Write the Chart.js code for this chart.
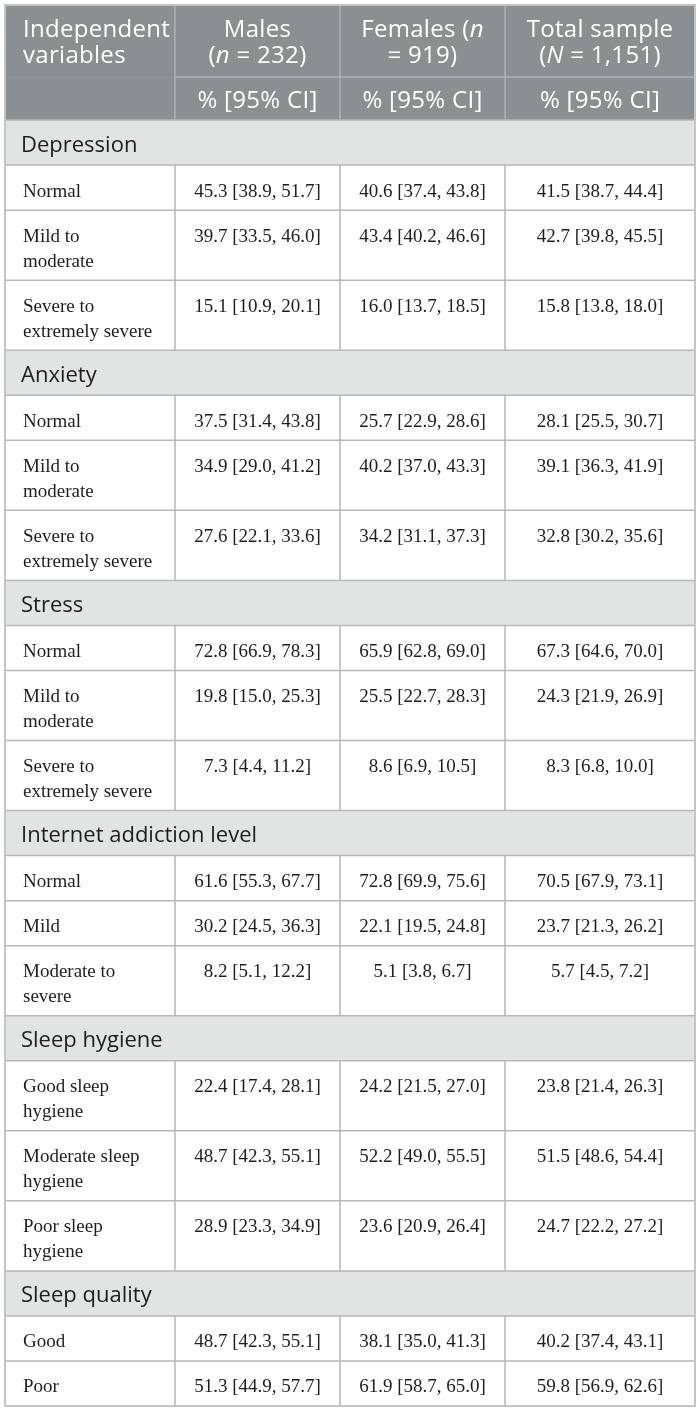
<!DOCTYPE html>
<html>
<head>
<meta charset="utf-8">
<script src="https://cdn.jsdelivr.net/npm/chart.js@4"></script>
<style>
  html, body { margin: 0; padding: 0; background: #fff; }
  #wrap { width: 700px; height: 1413px; }
</style>
</head>
<body>
<div id="wrap"><canvas id="myChart" width="700" height="1413"></canvas></div>
<script>
// header text, *x* marks italic
const headerCols = [
  ['Independent', 'variables'],
  ['Males', '(*n* = 232)'],
  ['Females (*n*', '= 919)'],
  ['Total sample', '(*N* = 1,151)']
];
const subHeader = '% [95% CI]';

const groups = ['Depression', 'Anxiety', 'Stress', 'Internet addiction level', 'Sleep hygiene', 'Sleep quality'];

const levels = [
  ['Normal', 'Mild to\nmoderate', 'Severe to\nextremely severe'],
  ['Normal', 'Mild to\nmoderate', 'Severe to\nextremely severe'],
  ['Normal', 'Mild to\nmoderate', 'Severe to\nextremely severe'],
  ['Normal', 'Mild', 'Moderate to\nsevere'],
  ['Good sleep\nhygiene', 'Moderate sleep\nhygiene', 'Poor sleep\nhygiene'],
  ['Good', 'Poor']
];

// [percent, lower CI, upper CI]
const males = [
  [[45.3, 38.9, 51.7], [39.7, 33.5, 46.0], [15.1, 10.9, 20.1]],
  [[37.5, 31.4, 43.8], [34.9, 29.0, 41.2], [27.6, 22.1, 33.6]],
  [[72.8, 66.9, 78.3], [19.8, 15.0, 25.3], [7.3, 4.4, 11.2]],
  [[61.6, 55.3, 67.7], [30.2, 24.5, 36.3], [8.2, 5.1, 12.2]],
  [[22.4, 17.4, 28.1], [48.7, 42.3, 55.1], [28.9, 23.3, 34.9]],
  [[48.7, 42.3, 55.1], [51.3, 44.9, 57.7]]
];
const females = [
  [[40.6, 37.4, 43.8], [43.4, 40.2, 46.6], [16.0, 13.7, 18.5]],
  [[25.7, 22.9, 28.6], [40.2, 37.0, 43.3], [34.2, 31.1, 37.3]],
  [[65.9, 62.8, 69.0], [25.5, 22.7, 28.3], [8.6, 6.9, 10.5]],
  [[72.8, 69.9, 75.6], [22.1, 19.5, 24.8], [5.1, 3.8, 6.7]],
  [[24.2, 21.5, 27.0], [52.2, 49.0, 55.5], [23.6, 20.9, 26.4]],
  [[38.1, 35.0, 41.3], [61.9, 58.7, 65.0]]
];
const total = [
  [[41.5, 38.7, 44.4], [42.7, 39.8, 45.5], [15.8, 13.8, 18.0]],
  [[28.1, 25.5, 30.7], [39.1, 36.3, 41.9], [32.8, 30.2, 35.6]],
  [[67.3, 64.6, 70.0], [24.3, 21.9, 26.9], [8.3, 6.8, 10.0]],
  [[70.5, 67.9, 73.1], [23.7, 21.3, 26.2], [5.7, 4.5, 7.2]],
  [[23.8, 21.4, 26.3], [51.5, 48.6, 54.4], [24.7, 22.2, 27.2]],
  [[40.2, 37.4, 43.1], [59.8, 56.9, 62.6]]
];

// layout
const colWidths = [170, 165, 165, 190];
const colEdges = [0];
colWidths.forEach(w => colEdges.push(colEdges[colEdges.length - 1] + w));

const fmt = v => v[0].toFixed(1) + ' [' + v[1].toFixed(1) + ', ' + v[2].toFixed(1) + ']';

// build row list, heights from number of text lines
const rows = [];
let yPos = 0;
rows.push({ type: 'head', top: yPos, h: 72 }); yPos += 72;
rows.push({ type: 'sub', top: yPos, h: 43 }); yPos += 43;
groups.forEach((g, gi) => {
  rows.push({ type: 'section', label: g, top: yPos, h: 45 }); yPos += 45;
  levels[gi].forEach((lv, li) => {
    const lines = lv.split('\n').length;
    const h = 20 + 25 * lines;
    rows.push({ type: 'data', label: lv, cells: [males[gi][li], females[gi][li], total[gi][li]].map(fmt), top: yPos, h: h });
    yPos += h;
  });
});
const totalHeight = yPos;

const HEAD_FONT = '"Open Sans", "Noto Sans", sans-serif';
const BODY_FONT = '"Liberation Serif", "DejaVu Serif", serif';
const HEAD_SIZE = 24;
const HEAD_SPACING = '0.3px';

function richParts(str) {
  return str.split('*').map((s, i) => ({ text: s, italic: i % 2 === 1 })).filter(p => p.text.length);
}

function drawRich(ctx, str, cx, y, size, color) {
  const parts = richParts(str);
  let w = 0;
  parts.forEach(p => {
    ctx.font = (p.italic ? 'italic ' : '') + size + 'px ' + HEAD_FONT;
    p.w = ctx.measureText(p.text).width;
    w += p.w;
  });
  let x = cx - w / 2;
  ctx.fillStyle = color;
  ctx.textAlign = 'left';
  parts.forEach(p => {
    ctx.font = (p.italic ? 'italic ' : '') + size + 'px ' + HEAD_FONT;
    ctx.fillText(p.text, x, y);
    x += p.w;
  });
}

const tablePlugin = {
  id: 'tableDraw',
  afterDraw(chart) {
    const ctx = chart.ctx;
    const xs = chart.scales.x, ys = chart.scales.y;
    const X = v => xs.getPixelForValue(v);
    const Y = v => ys.getPixelForValue(v);
    const left = X(0), right = X(colEdges[colEdges.length - 1]);
    ctx.save();
    ctx.textBaseline = 'alphabetic';

    // backgrounds
    rows.forEach(r => {
      if (r.type === 'head' || r.type === 'sub') ctx.fillStyle = '#8b8f92';
      else if (r.type === 'section') ctx.fillStyle = '#e2e3e3';
      else ctx.fillStyle = '#ffffff';
      ctx.fillRect(left, Y(r.top), right - left, Y(r.top + r.h) - Y(r.top));
    });

    // header grid
    ctx.strokeStyle = '#aeb1b3';
    ctx.lineWidth = 1.5;
    ctx.beginPath();
    for (let c = 1; c < colEdges.length - 1; c++) {
      ctx.moveTo(X(colEdges[c]), Y(0));
      ctx.lineTo(X(colEdges[c]), Y(rows[1].top + rows[1].h));
    }
    ctx.moveTo(X(colEdges[1]), Y(rows[1].top));
    ctx.lineTo(right, Y(rows[1].top));
    ctx.stroke();

    // body grid
    ctx.strokeStyle = '#b7b7b7';
    ctx.beginPath();
    rows.slice(2).forEach(r => {
      ctx.moveTo(left, Y(r.top));
      ctx.lineTo(right, Y(r.top));
      if (r.type === 'data') {
        for (let c = 1; c < colEdges.length - 1; c++) {
          ctx.moveTo(X(colEdges[c]), Y(r.top));
          ctx.lineTo(X(colEdges[c]), Y(r.top + r.h));
        }
      }
    });
    ctx.stroke();

    // outer border
    ctx.strokeStyle = '#c4c4c4';
    ctx.lineWidth = 2;
    ctx.strokeRect(left, Y(0), right - left, Y(totalHeight) - Y(0));

    // header text
    ctx.letterSpacing = HEAD_SPACING;
    const h0 = rows[0];
    headerCols.forEach((lines, c) => {
      lines.forEach((ln, i) => {
        const y = Y(h0.top) + 32 + i * 26;
        if (c === 0) {
          ctx.font = HEAD_SIZE + 'px ' + HEAD_FONT;
          ctx.fillStyle = '#ffffff';
          ctx.textAlign = 'left';
          ctx.fillText(ln, X(colEdges[0]) + 18, y);
        } else {
          drawRich(ctx, ln, (X(colEdges[c]) + X(colEdges[c + 1])) / 2, y, HEAD_SIZE, '#ffffff');
        }
      });
    });
    for (let c = 1; c < headerCols.length; c++) {
      drawRich(ctx, subHeader, (X(colEdges[c]) + X(colEdges[c + 1])) / 2, Y(rows[1].top) + 31, HEAD_SIZE, '#ffffff');
    }
    ctx.letterSpacing = '0px';

    // section + data text
    rows.slice(2).forEach(r => {
      const base = Y(r.top) + 31.5;
      if (r.type === 'section') {
        ctx.font = '22px ' + HEAD_FONT;
        ctx.fillStyle = '#1e1e1e';
        ctx.textAlign = 'left';
        ctx.fillText(r.label, X(colEdges[0]) + 16, base);
      } else {
        ctx.font = '19px ' + BODY_FONT;
        ctx.fillStyle = '#1e1e1e';
        ctx.textAlign = 'left';
        r.label.split('\n').forEach((ln, i) => ctx.fillText(ln, X(colEdges[0]) + 18, base + i * 25));
        ctx.textAlign = 'center';
        r.cells.forEach((t, c) => {
          ctx.fillText(t, (X(colEdges[c + 1]) + X(colEdges[c + 2])) / 2, base);
        });
      }
    });
    ctx.restore();
  }
};

const ctx = document.getElementById('myChart');

new Chart(ctx, {
  type: 'scatter',
  data: { datasets: [{ data: [] }] },
  options: {
    responsive: false,
    animation: false,
    events: [],
    layout: { padding: { left: 5, right: 5, top: 5, bottom: 7 } },
    plugins: { legend: { display: false }, tooltip: { enabled: false } },
    scales: {
      x: { type: 'linear', display: false, min: 0, max: colEdges[colEdges.length - 1] },
      y: { type: 'linear', display: false, reverse: true, min: 0, max: totalHeight }
    }
  },
  plugins: [tablePlugin]
});
</script>
</body>
</html>
